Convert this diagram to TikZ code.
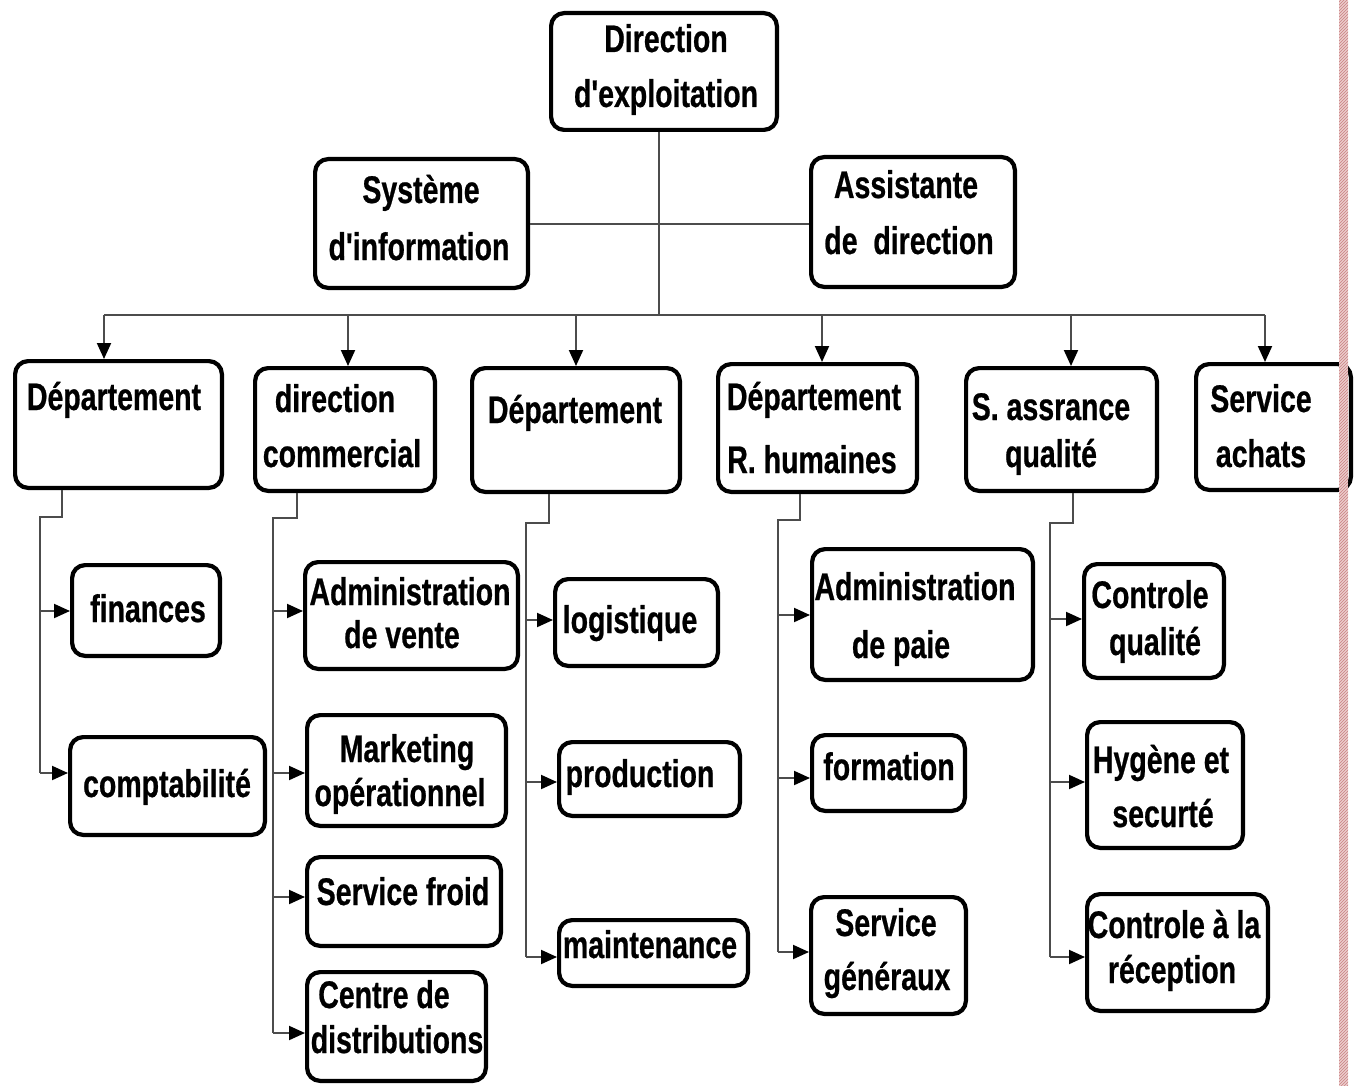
\documentclass[tikz,border=0pt]{standalone}
\usepackage{fontspec}
\newfontfamily\nf{Liberation Sans}[FakeStretch=0.74,FakeBold=0.6]
\usetikzlibrary{arrows.meta,patterns}
\definecolor{bandfill}{RGB}{236,205,205}
\definecolor{bandline}{RGB}{200,130,130}
\newcommand\bx[5]{%
  \pgfmathsetmacro\bxw{#4-#2-4.2}\pgfmathsetmacro\bxh{#5-#3-4.2}%
  \pgfmathsetmacro\bxcx{(#2+#4)/2}\pgfmathsetmacro\bxcy{(#3+#5)/2}%
  \node[obox,minimum width=\bxw pt,minimum height=\bxh pt] (#1) at (\bxcx,\bxcy) {};}
\newcommand\tx[4]{\node[txt] (#1) at (#2,#3) {#4};}
\begin{document}
\begin{tikzpicture}[x=1pt,y=-1pt,
  obox/.style={draw=black,line width=4.2pt,rounded corners=13pt,fill=white,inner sep=0pt},
  txt/.style={font=\nf\bfseries\fontsize{38.5}{46}\selectfont,inner sep=0pt,anchor=base,text=black},
  conn/.style={draw=black!70,line width=2pt},
  arr/.style={conn,-{Triangle[length=16pt,width=14pt,black]}}]
\useasboundingbox (0,0) rectangle (1362,1086);
\fill[white] (0,0) rectangle (1362,1086);

% coordinates of connector bends
\coordinate (top) at (659,315);
\coordinate (b1) at (104,315); \coordinate (b2) at (348,315);
\coordinate (b3) at (576,315); \coordinate (b4) at (822,315);
\coordinate (b5) at (1071,315); \coordinate (b6) at (1265,315);
\coordinate (k1) at (62,517);  \coordinate (j1) at (40,517);
\coordinate (k2) at (297,518); \coordinate (j2) at (273,518);
\coordinate (k3) at (549,523); \coordinate (j3) at (526,523);
\coordinate (k4) at (800,520); \coordinate (j4) at (778,520);
\coordinate (k5) at (1073,523); \coordinate (j5) at (1050,523);
\coordinate (a11) at (40,611);  \coordinate (a12) at (40,773);
\coordinate (a21) at (273,611); \coordinate (a22) at (273,773);
\coordinate (a23) at (273,897); \coordinate (a24) at (273,1033);
\coordinate (a31) at (526,620); \coordinate (a32) at (526,782);
\coordinate (a33) at (526,957);
\coordinate (a41) at (778,615); \coordinate (a42) at (778,778);
\coordinate (a43) at (778,952);
\coordinate (a51) at (1050,619); \coordinate (a52) at (1050,782);
\coordinate (a53) at (1050,957);

% boxes
\bx{dir}{549}{11}{779}{132}
\bx{sys}{313}{157}{530}{290}
\bx{ast}{809}{155}{1017}{289}
\bx{d1}{13}{359}{224}{490}
\bx{d2}{253}{366}{437}{493}
\bx{d3}{470}{366}{682}{494}
\bx{d4}{716}{362}{919}{494}
\bx{d5}{964}{366}{1159}{493}
\bx{d6}{1194}{362}{1353}{492}
\bx{fin}{70}{563}{222}{658}
\bx{cpt}{68}{735}{267}{837}
\bx{adv}{303}{560}{520}{671}
\bx{mkt}{305}{713}{508}{828}
\bx{sfr}{305}{855}{503}{948}
\bx{ctr}{305}{970}{488}{1083}
\bx{log}{553}{577}{720}{668}
\bx{prd}{557}{740}{742}{818}
\bx{mnt}{557}{918}{750}{988}
\bx{adp}{810}{547}{1035}{682}
\bx{frm}{810}{733}{967}{813}
\bx{sgn}{809}{895}{968}{1016}
\bx{cq}{1082}{562}{1226}{680}
\bx{hyg}{1085}{720}{1245}{850}
\bx{cr}{1085}{892}{1270}{1013}

% top connectors
\draw[conn] (top |- dir.south) -- (top);
\draw[conn] (sys.east) -- (sys.east -| ast.west);
\draw[conn] (b1) -- (b6);
\foreach \b/\d in {b1/d1,b2/d2,b3/d3,b4/d4,b5/d5,b6/d6}
  \draw[arr] (\b) -- (\b |- \d.north);

% department trunks
\draw[conn] (k1 |- d1.south) -- (k1) -- (j1) -- (a12);
\draw[conn] (k2 |- d2.south) -- (k2) -- (j2) -- (a24);
\draw[conn] (k3 |- d3.south) -- (k3) -- (j3) -- (a33);
\draw[conn] (k4 |- d4.south) -- (k4) -- (j4) -- (a43);
\draw[conn] (k5 |- d5.south) -- (k5) -- (j5) -- (a53);
\foreach \a/\n in {a11/fin,a12/cpt,a21/adv,a22/mkt,a23/sfr,a24/ctr,
  a31/log,a32/prd,a33/mnt,a41/adp,a42/frm,a43/sgn,a51/cq,a52/hyg,a53/cr}
  \draw[arr] (\a) -- (\a -| \n.west);

% texts
\tx{t1}{666}{52}{Direction}
\tx{t2}{666}{107}{d'exploitation}
\tx{t3}{421}{203}{Système}
\tx{t4}{419}{260}{d'information}
\tx{t5}{906}{198}{Assistante}
\tx{t6}{909}{254}{de~~direction}
\tx{t7}{114}{410}{Département}
\tx{t8}{335}{412}{direction}
\tx{t9}{342}{467}{commercial}
\tx{t10}{575}{423}{Département}
\tx{t11}{814}{410}{Département}
\tx{t12}{812}{473}{R. humaines}
\tx{t13}{1051}{420}{S. assrance}
\tx{t14}{1051}{467}{qualité}
\tx{t15}{1261}{412}{Service}
\tx{t16}{1261}{467}{achats}
\tx{t17}{148}{622}{finances}
\tx{t18}{167}{797}{comptabilité}
\tx{t19}{410}{605}{Administration}
\tx{t20}{402}{648}{de vente}
\tx{t21}{407}{762}{Marketing}
\tx{t22}{400}{806}{opérationnel}
\tx{t23}{403}{905}{Service froid}
\tx{t24}{384}{1008}{Centre de}
\tx{t25}{397}{1053}{distributions}
\tx{t26}{630}{633}{logistique}
\tx{t27}{640}{787}{production}
\tx{t28}{650}{958}{maintenance}
\tx{t29}{915}{600}{Administration}
\tx{t30}{901}{658}{de paie}
\tx{t31}{889}{780}{formation}
\tx{t32}{886}{936}{Service}
\tx{t33}{887}{990}{généraux}
\tx{t34}{1150}{608}{Controle}
\tx{t35}{1155}{655}{qualité}
\tx{t36}{1161}{773}{Hygène et}
\tx{t37}{1163}{827}{securté}
\tx{t38}{1174}{938}{Controle à la}
\tx{t39}{1172}{983}{réception}

% hatched page border on the right
\fill[bandfill] (1339,0) rectangle (1348,1086);
\fill[pattern=north east lines,pattern color=bandline] (1339,0) rectangle (1348,1086);
\end{tikzpicture}
\end{document}
